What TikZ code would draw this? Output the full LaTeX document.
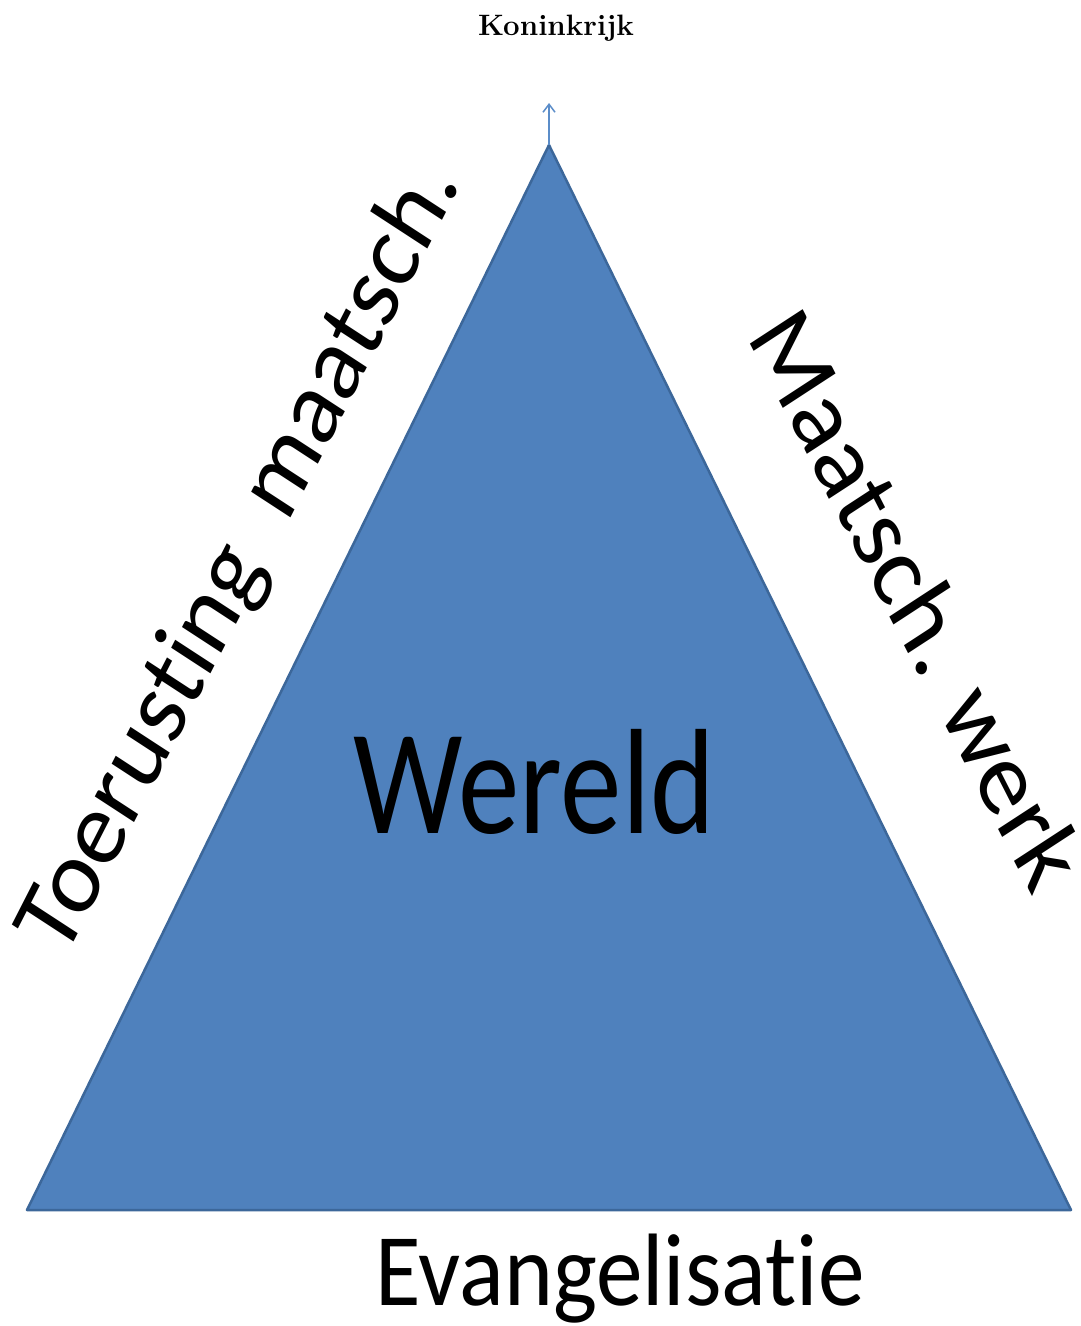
\documentclass[tikz,border=0pt]{standalone}
\usepackage{fontspec}
\newfontfamily\calib[Ligatures=NoCommon]{Carlito}
\usetikzlibrary{arrows.meta}
\definecolor{triFill}{HTML}{4F81BD}
\definecolor{triLine}{HTML}{3C679A}
\definecolor{arrowBlue}{HTML}{5B8DC9}
\tikzset{
  lbl/.style={inner sep=0pt, font=\calib, text=black},
  sidelbl/.style={lbl, anchor=base, font=\calib\fontsize{95}{95}\selectfont},
  title/.style={inner sep=0pt, font=\fontsize{29.5}{30}\selectfont\bfseries},
}
\begin{document}
\begin{tikzpicture}[x=1pt,y=-1pt]
\useasboundingbox (0,0) rectangle (1081,1326);
\fill[white] (0,0) rectangle (1081,1326);
\coordinate (apex) at (549,145);
\coordinate (bl) at (27,1210);
\coordinate (br) at (1071,1210);
\coordinate (tip) at (549,103);
\filldraw[fill=triFill, draw=triLine, line width=2.5pt, line join=round] (apex) -- (br) -- (bl) -- cycle;
\draw[arrowBlue, line width=1.5pt, -{Straight Barb[length=8pt,width=12pt]}] (apex) -- (tip);
\node[title, anchor=base] (kon) at (556,35) {Koninkrijk};
\node[lbl, anchor=base, font=\calib\fontsize{150}{150}\selectfont, xscale=0.82] (wereld) at (534,833) {Wereld};
\node[lbl, anchor=base, font=\calib\fontsize{103}{103}\selectfont, xscale=0.905] (evang) at (620,1305) {Evangelisatie};
\node[sidelbl, yscale=1.13, rotate=60] (toer) at (263,572) {Toerusting\ \ maatsch.};
\node[sidelbl, yscale=1.13, rotate=-60] (maat) at (890,617) {Maatsch. werk};
\end{tikzpicture}
\end{document}
